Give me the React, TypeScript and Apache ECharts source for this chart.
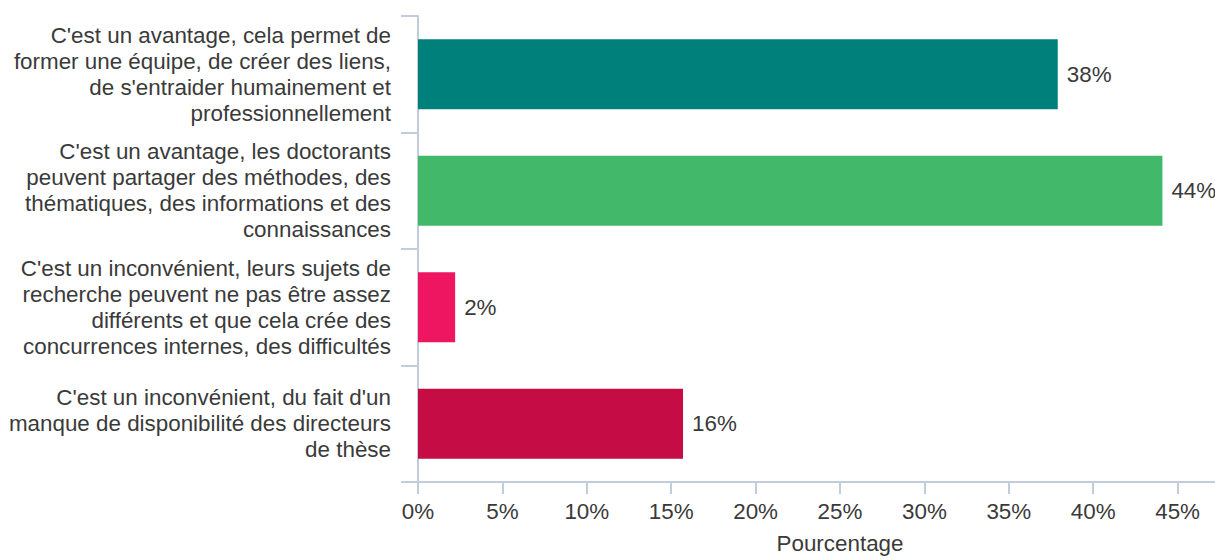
import React, { useEffect, useRef } from "react";
import * as echarts from "echarts";

const categories = [
  "C'est un avantage, cela permet de\nformer une équipe, de créer des liens,\nde s'entraider humainement et\nprofessionnellement",
  "C'est un avantage, les doctorants\npeuvent partager des méthodes, des\nthématiques, des informations et des\nconnaissances",
  "C'est un inconvénient, leurs sujets de\nrecherche peuvent ne pas être assez\ndifférents et que cela crée des\nconcurrences internes, des difficultés",
  "C'est un inconvénient, du fait d'un\nmanque de disponibilité des directeurs\nde thèse",
];
const percentages = [37.9, 44.1, 2.2, 15.7];
const barColors = ["#00807a", "#42b86a", "#ee1660", "#c60c45"];
const axisName = "Pourcentage";

const FONT = "'Liberation Sans', Arial, sans-serif";
const AXIS_COLOR = "#c3ccda";
const TEXT_COLOR = "#3a3a3a";
const FONT_SIZE = 22.4;

export default function App() {
  const ref = useRef<HTMLDivElement>(null);

  useEffect(() => {
    // The plot runs past the right edge of the viewport; keep the page from scrolling.
    document.body.style.margin = "0";
    document.body.style.overflow = "hidden";
    document.documentElement.style.overflow = "hidden";
    if (!ref.current) return;
    const chart = echarts.init(ref.current, undefined, { renderer: "svg" });
    chart.setOption({
      animation: false,
      textStyle: { fontFamily: FONT },
      grid: { left: 418, right: 38, top: 16, bottom: 74, containLabel: false },
      xAxis: {
        type: "value",
        min: 0,
        max: 50,
        interval: 5,
        name: axisName,
        nameLocation: "middle",
        nameGap: 50,
        nameTextStyle: { fontSize: FONT_SIZE, color: TEXT_COLOR, fontFamily: FONT },
        axisLine: { show: true, lineStyle: { color: AXIS_COLOR, width: 2 } },
        axisTick: { show: true, length: 12, lineStyle: { color: AXIS_COLOR, width: 2 } },
        axisLabel: {
          formatter: "{value}%",
          fontSize: FONT_SIZE,
          color: TEXT_COLOR,
          margin: 18,
          fontFamily: FONT,
          showMaxLabel: false,
        },
        splitLine: { show: false },
      },
      yAxis: {
        type: "category",
        inverse: true,
        data: categories,
        axisLine: { show: true, lineStyle: { color: AXIS_COLOR, width: 2 } },
        axisTick: { show: true, length: 17, lineStyle: { color: AXIS_COLOR, width: 2 } },
        axisLabel: {
          fontSize: FONT_SIZE,
          lineHeight: 26,
          color: TEXT_COLOR,
          margin: 27,
          align: "right",
          padding: [6, 0, 0, 0],
          fontFamily: FONT,
        },
      },
      series: [
        {
          type: "bar",
          barCategoryGap: "40%",
          data: percentages.map((v, i) => ({
            value: v,
            itemStyle: { color: barColors[i] },
          })),
          label: {
            show: true,
            position: "right",
            distance: 9,
            fontSize: FONT_SIZE,
            color: TEXT_COLOR,
            fontFamily: FONT,
            formatter: (p: any) => Math.round(p.value) + "%",
          },
        },
      ],
    });
    return () => chart.dispose();
  }, []);

  return <div ref={ref} style={{ width: 1300, height: 559 }} />;
}
